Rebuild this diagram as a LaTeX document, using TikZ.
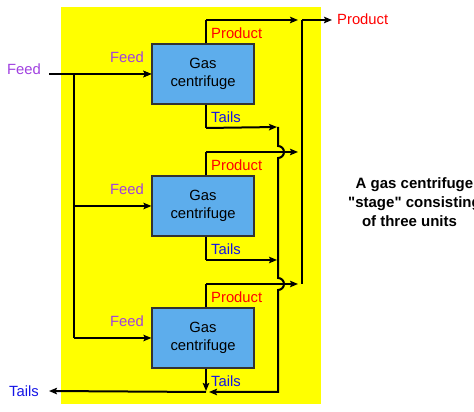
\documentclass[tikz,border=0pt]{standalone}
\usepackage{fontspec}
\setmainfont{Liberation Sans}
\newfontfamily\capfont{Liberation Sans}
\usetikzlibrary{calc,positioning,arrows.meta}
\definecolor{stageyellow}{HTML}{FFFF00}
\definecolor{unitblue}{HTML}{5DADEC}
\definecolor{feedpurple}{HTML}{A040E0}
\definecolor{prodred}{HTML}{FF0000}
\definecolor{tailblue}{HTML}{1414E6}

\begin{document}
\begin{tikzpicture}[x=1pt, y=1pt, >={Stealth[length=8pt, width=6.5pt, inset=1.5pt]},
    font=\fontsize{14.8}{18}\selectfont,
    unit/.style={draw=black!80, line width=1.2pt, fill=unitblue, align=center,
                 minimum width=102pt, minimum height=60pt, inner sep=0pt},
    flow/.style={line width=2pt},
    feedlbl/.style={text=feedpurple, inner sep=1pt},
    prodlbl/.style={text=prodred, inner sep=1pt},
    taillbl/.style={text=tailblue, inner sep=1pt}]
  \useasboundingbox (0,0) rectangle (474,412);
  \fill[stageyellow] (61,8) rectangle (321,405);
  % three units of the stage
  \foreach \i/\y in {1/338, 2/206, 3/74} {
    \node[unit] (gc\i) at (203,\y) {Gas\\centrifuge};
    \coordinate (fd\i) at (74,\y);
    \coordinate (pr\i) at (206,\y+54);
    \coordinate (tl\i) at (206,\y-54);
    \node[feedlbl, anchor=east] (feedlbl\i) at (145,\y+17) {Feed};
    \node[prodlbl, anchor=west] (prodlbl\i) at (210,\y+41) {Product};
    \node[taillbl, anchor=west] (taillbl\i) at (210,\y-43) {Tails};
    \draw[flow, ->] (fd\i) -- (gc\i.west);
    \draw[flow] ($(gc\i.north)+(3,0)$) -- (pr\i);
  }
  % collectors
  \coordinate (pc1) at (302,392);
  \coordinate (pc3) at (302,128);
  \coordinate (tc1) at (278,285);
  \coordinate (tc3) at (278,20);
  \node[feedlbl, anchor=east] (feedin) at (42,343) {Feed};
  \node[prodlbl, anchor=west] (prodout) at (336,393) {Product};
  \node[taillbl, anchor=east] (tailsout) at (40,21) {Tails};
  \node[font=\capfont\bfseries\fontsize{15}{19}\selectfont, align=center]
        (caption) at (414.5,210)
        {A gas centrifuge\\"stage" consisting\\of three units\hspace*{10pt}};
  % feed side
  \draw[flow, ->] (feedin.east) ++(7,-5) coordinate (feedstart) -- (gc1.west);
  \draw[flow] (fd1) -- (fd3);
  % product side
  \draw[flow, ->, shorten >=4pt] (pr1) -- (pc1);
  \draw[flow, ->, shorten >=4pt] (pr2) -- (pr2-|pc1);
  \draw[flow, ->, shorten >=4pt] (pr3) -- (pc3);
  \draw[flow] (pc1) -- (pc3);
  \draw[flow, ->] (pc1) -- ++(30,0) coordinate (prodend);
  % tails side
  \draw[flow] ($(gc1.south)+(3,0)$) -- (tl1);
  \draw[flow] ($(gc2.south)+(3,0)$) -- (tl2);
  \draw[flow, ->, shorten >=1pt] (tl1) -- (tc1);
  \draw[flow, ->, shorten >=1pt] (tl2) -- (tl2-|tc1);
  \draw[flow, ->, shorten >=1pt] ($(gc3.south)+(3,0)$) -- (tl3);
  \draw[flow, ->, shorten >=3pt] (tc1) -- ($(pr2-|tc1)+(0,6)$)
        arc[start angle=90, end angle=-90, radius=6]
        -- ($(pr3-|tc1)+(0,6)$)
        arc[start angle=90, end angle=-90, radius=6]
        -- (tc3) -- (tl3);
  \draw[flow, ->] (tl3) -- (tailsout.east -| feedstart);
\end{tikzpicture}
\end{document}
